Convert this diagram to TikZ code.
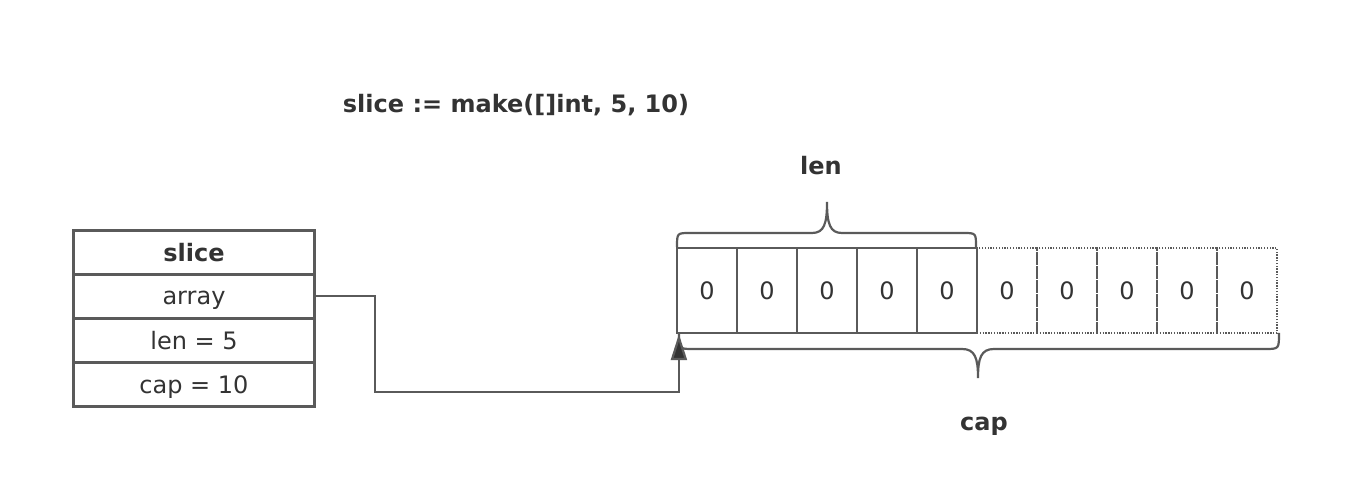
\documentclass[tikz,border=0pt]{standalone}
\usepackage{fontspec}
\setmainfont{DejaVu Sans}
\usetikzlibrary{arrows.meta}
\definecolor{ln}{HTML}{5A5A5A}
\definecolor{tx}{HTML}{333333}
\begin{document}
\begin{tikzpicture}[x=1pt,y=1pt,
  txt/.style={text=tx,font=\fontsize{24}{28}\selectfont},
  btxt/.style={text=tx,font=\fontsize{24}{28}\selectfont\bfseries},
  rowbox/.style={draw=ln,line width=2.1pt,minimum width=241pt,minimum height=44pt,inner sep=0pt,text height=20pt,text depth=2pt,txt},
  cellsolid/.style={draw=ln,line width=2.2pt,minimum width=60pt,minimum height=85pt,inner sep=0pt,txt},
  celldot/.style={draw=ln,line width=2pt,dash pattern=on 1.3pt off 1.5pt,minimum width=60pt,minimum height=85pt,inner sep=0pt,txt},
  brace/.style={draw=ln,line width=2.2pt},
  conn/.style={draw=ln,line width=2.2pt}]
\useasboundingbox (0,0) rectangle (1370,486);
\fill[white] (0,0) rectangle (1370,486);
% title
\node[btxt] (title) at (516,381) {slice := make([]int, 5, 10)};
% struct
\node[rowbox,btxt] (rslice) at (194,233.5) {slice};
\node[rowbox] (rarray) at (194,190) {array};
\node[rowbox] (rlen) at (194,145.5) {len = 5};
\node[rowbox] (rcap) at (194,101.5) {cap = 10};
% cells
\foreach \i in {6,...,10} {
  \node[celldot] (c\i) at ({707+60*(\i-1)},195.5) {0};
}
\foreach \i in {1,...,5} {
  \node[cellsolid] (c\i) at ({707+60*(\i-1)},195.5) {0};
}
% braces
\draw[brace] (677,239) .. controls (677,253) .. (690,253) -- (812,253)
  .. controls (824,253) and (827,262) .. (827,284)
  .. controls (827,262) and (830,253) .. (842,253) -- (963,253)
  .. controls (976,253) .. (976,239);
\draw[brace] (679,153) .. controls (679,137) .. (693,137) -- (962,137)
  .. controls (975,137) and (978,128) .. (978,108)
  .. controls (978,128) and (981,137) .. (994,137) -- (1265,137)
  .. controls (1279,137) .. (1279,153);
\node[btxt] (lenlbl) at (821,320) {len};
\node[btxt] (caplbl) at (984,60) {cap};
% connector
\coordinate (bend1) at (375,190);
\coordinate (bend2) at (375,94);
\coordinate (tgt) at ([xshift=3pt]c1.south west);
\draw[conn,-{Triangle[length=26pt,width=16pt,fill=tx]}] (rarray.east) -- (bend1) -- (bend2) -| (tgt);
\end{tikzpicture}
\end{document}
